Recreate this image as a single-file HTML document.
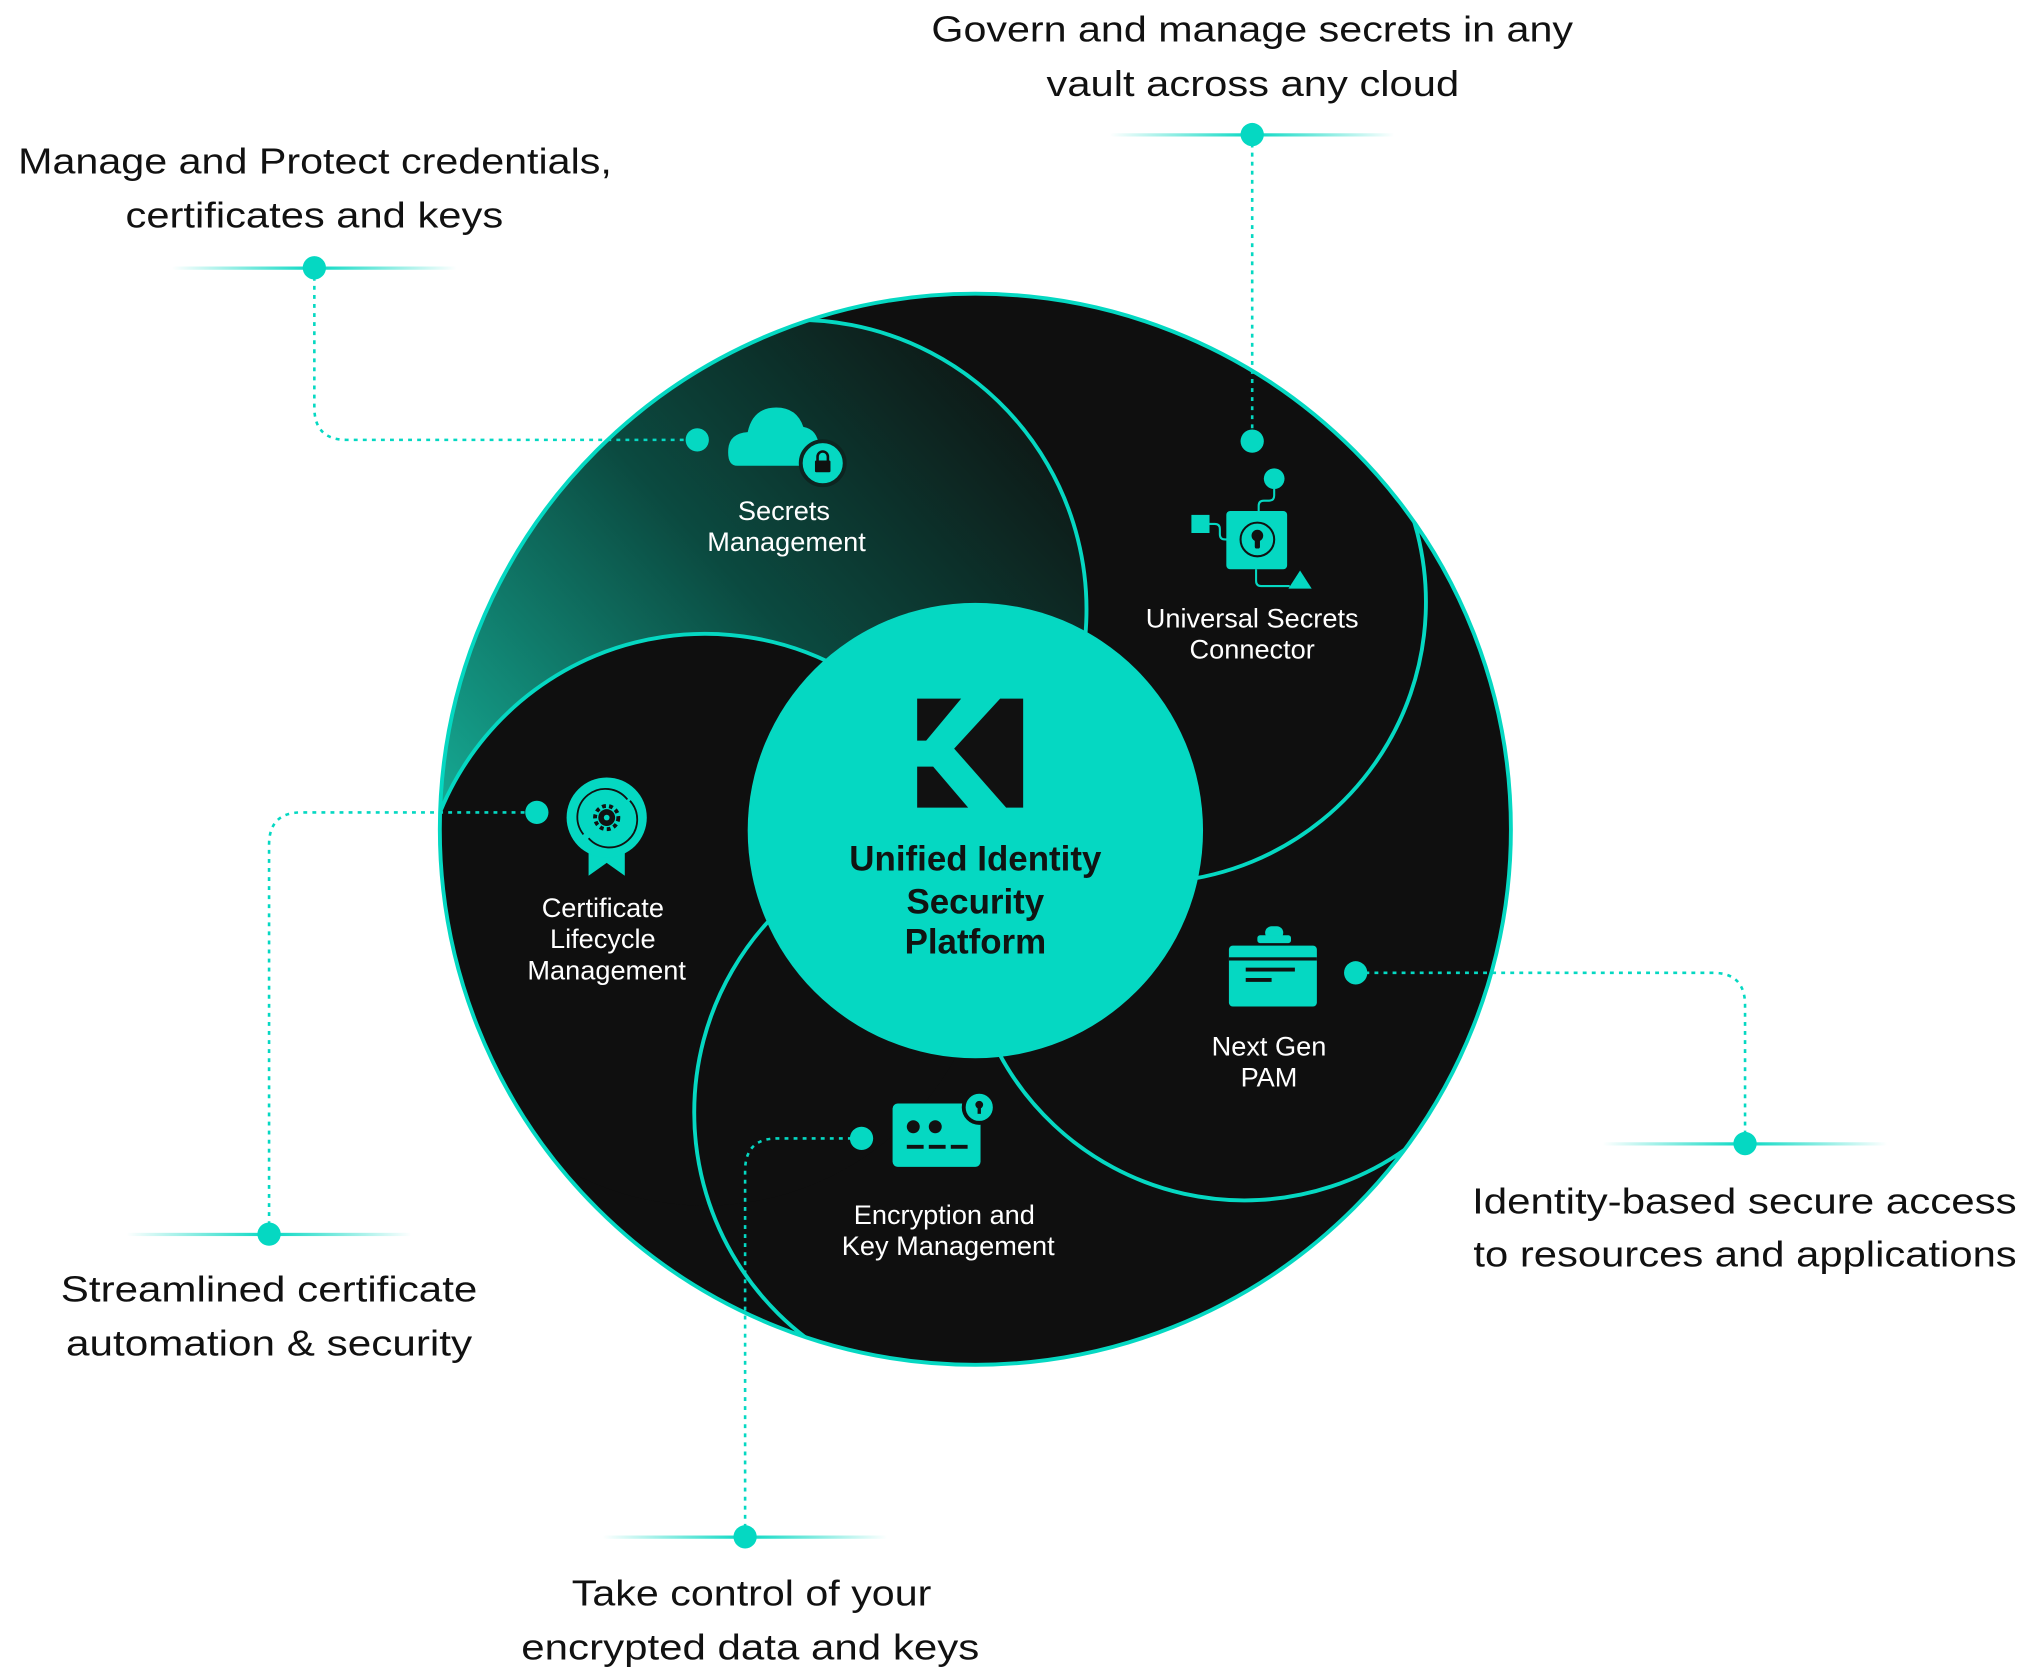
<!DOCTYPE html>
<html><head><meta charset="utf-8"><style>
html,body{margin:0;padding:0;background:#fff;}
svg{display:block;}
text{font-family:"Liberation Sans",sans-serif;}
</style></head><body>
<svg width="2018" height="1667" viewBox="0 0 1560 1288.6" xmlns="http://www.w3.org/2000/svg">
<defs>
<clipPath id="main"><circle cx="754" cy="641" r="414"/></clipPath>
<linearGradient id="grad" gradientUnits="userSpaceOnUse" x1="780" y1="260" x2="360" y2="640">
<stop offset="0" stop-color="#0e1311"/>
<stop offset="0.5" stop-color="#0b4a40"/>
<stop offset="1" stop-color="#15a892"/>
</linearGradient>
<linearGradient id="hl" gradientUnits="userSpaceOnUse" x1="0" y1="0" x2="220" y2="0">
<stop offset="0" stop-color="#05d8c2" stop-opacity="0"/>
<stop offset="0.5" stop-color="#05d8c2" stop-opacity="1"/>
<stop offset="1" stop-color="#05d8c2" stop-opacity="0"/>
</linearGradient>
</defs>

<circle cx="754" cy="641" r="414" fill="#0f0f0f"/>
<g clip-path="url(#main)">
<path d="M596.5,248 A224,224 0 0 1 799.5,599.5 L300,660 L300,200 Z" fill="url(#grad)"/>
<circle cx="545" cy="711" r="221" fill="#0f0f0f"/>
</g>
<g clip-path="url(#main)" fill="none" stroke="#05d8c2" stroke-width="3">
<path d="M596.5,248 A224,224 0 0 1 799.5,599.5"/>
<path d="M331.5,653.8 A221,221 0 0 1 655.5,519.6"/>
<path d="M1073,356.5 A217,217 0 0 1 847,679"/>
<path d="M646.5,1049.7 A219,219 0 0 1 646.5,670"/>
<path d="M760,786.5 A215,215 0 0 0 1114,865"/>
</g>
<circle cx="754" cy="641" r="414" fill="none" stroke="#05d8c2" stroke-width="3"/>

<circle cx="754" cy="642" r="176" fill="#05d8c2"/>
<g transform="translate(709,540) scale(0.773)" fill="#111">
<path d="M0,0 L44,0 L9,42 L0,42 Z"/>
<path d="M0,68 L16,68 L51,109 L0,109 Z"/>
<path d="M83,0 L106,0 L106,109 L89,109 L37,50 Z"/>
</g>
<g font-weight="bold" font-size="27" fill="#101412" text-anchor="middle">
<text x="754" y="673">Unified Identity</text>
<text x="754" y="706">Security</text>
<text x="754" y="737">Platform</text>
</g>

<g fill="none" stroke="#05d8c2" stroke-width="2" stroke-dasharray="3 4">
<path d="M968,104 V341"/>
<path d="M243,207 V315 Q243,340 268,340 H539"/>
<path d="M208,954 V653 Q208,628 233,628 H415"/>
<path d="M576,1188 V905 Q576,880 601,880 H666"/>
<path d="M1349,884 V777 Q1349,752 1324,752 H1048"/>
</g>
<g fill="url(#hl)">
<rect x="0" y="0" width="220" height="2.5" transform="translate(858,103)"/>
<rect x="0" y="0" width="220" height="2.5" transform="translate(133,206)"/>
<rect x="0" y="0" width="220" height="2.5" transform="translate(98,953)"/>
<rect x="0" y="0" width="220" height="2.5" transform="translate(466,1187)"/>
<rect x="0" y="0" width="220" height="2.5" transform="translate(1239,883)"/>
</g>
<g fill="#05d8c2">
<circle cx="968" cy="104" r="9"/><circle cx="968" cy="341" r="9"/>
<circle cx="243" cy="207" r="9"/><circle cx="539" cy="340" r="9"/>
<circle cx="208" cy="954" r="9"/><circle cx="415" cy="628" r="9"/>
<circle cx="576" cy="1188" r="9"/><circle cx="666" cy="880" r="9"/>
<circle cx="1349" cy="884" r="9"/><circle cx="1048" cy="752" r="9"/>
</g>

<g fill="#05d8c2">
<path d="M570,360 Q562,360 563,347 Q564,335 578,334 Q582,315 600,315 Q616,315 621,330 Q632,332 633,345 L633,360 Z"/>
<circle cx="636" cy="358" r="17" stroke="#0d2420" stroke-width="3"/>
</g>
<rect x="630" y="356" width="12" height="9" fill="#0f1110" rx="1"/>
<path d="M632,356 v-3 a4,4 0 0 1 8,0 v3" fill="none" stroke="#0f1110" stroke-width="2"/>

<g fill="#05d8c2">
<circle cx="985" cy="370" r="8"/>
<rect x="921" y="398" width="14" height="14"/>
<rect x="948" y="395" width="47" height="45" rx="3"/>
<path d="M1005,441 L1014,455 L996,455 Z"/>
</g>
<g fill="none" stroke="#05d8c2" stroke-width="1.6">
<path d="M985,378 v5 q0,4 -4,4 h-4 q-4,0 -4,4 v4"/>
<path d="M935,405 h4 q4,0 4,4 v4 q0,4 4,4 h2"/>
<path d="M971,440 v9 q0,4 4,4 h22"/>
</g>
<circle cx="972" cy="417" r="13" fill="none" stroke="#111" stroke-width="1.6"/>
<circle cx="972" cy="414" r="4.5" fill="#111"/>
<rect x="970" y="414" width="4" height="10" rx="1.5" fill="#111"/>

<g fill="#05d8c2">
<path d="M455,650 L455,677 L469,667 L483,677 L483,650 Z"/>
<circle cx="469" cy="632" r="31"/>
</g>
<g fill="none" stroke="#111" stroke-width="1.4">
<path d="M451,645 A20,20 0 0 1 485,618"/>
<path d="M487,619 A20,20 0 0 1 455,648"/>
</g>
<circle cx="469" cy="632" r="6.5" fill="#111"/>
<circle cx="469" cy="632" r="9" fill="none" stroke="#111" stroke-width="3" stroke-dasharray="3 2.5"/>
<circle cx="469" cy="632" r="2.2" fill="#05d8c2"/>

<g fill="#05d8c2">
<rect x="978" y="716" width="14" height="10" rx="5"/>
<rect x="972" y="723" width="26" height="6" rx="2"/>
<rect x="950" y="731" width="68" height="47" rx="3"/>
</g>
<rect x="950" y="740" width="68" height="2.5" fill="#111"/>
<rect x="963" y="748" width="38" height="3" fill="#111"/>
<rect x="963" y="756" width="20" height="3" fill="#111"/>

<rect x="690" y="853" width="68" height="49" rx="4" fill="#05d8c2"/>
<circle cx="757" cy="856" r="12" fill="#05d8c2" stroke="#0f0f0f" stroke-width="3"/>
<circle cx="757" cy="854" r="3" fill="#111"/><rect x="755.7" y="854" width="2.6" height="7" fill="#111"/>
<circle cx="706" cy="871" r="5" fill="#111"/><circle cx="723" cy="871" r="5" fill="#111"/>
<rect x="701" y="885" width="13" height="3" fill="#111"/><rect x="718" y="885" width="13" height="3" fill="#111"/><rect x="735" y="885" width="13" height="3" fill="#111"/>

<g fill="#fff" font-size="21" text-anchor="middle">
<text x="606" y="402">Secrets</text>
<text x="608" y="426">Management</text>
<text x="968" y="485">Universal Secrets</text>
<text x="968" y="509">Connector</text>
<text x="466" y="709">Certificate</text>
<text x="466" y="733">Lifecycle</text>
<text x="469" y="757">Management</text>
<text x="981" y="816">Next Gen</text>
<text x="981" y="840">PAM</text>
<text x="730" y="946">Encryption and</text>
<text x="733" y="970">Key Management</text>
</g>

<g fill="#111" font-size="28">
<text x="720" y="32" textLength="496" lengthAdjust="spacingAndGlyphs">Govern and manage secrets in any</text>
<text x="809" y="74" textLength="319" lengthAdjust="spacingAndGlyphs">vault across any cloud</text>
<text x="14" y="134" textLength="459" lengthAdjust="spacingAndGlyphs">Manage and Protect credentials,</text>
<text x="97" y="176" textLength="292" lengthAdjust="spacingAndGlyphs">certificates and keys</text>
<text x="47" y="1006" textLength="322" lengthAdjust="spacingAndGlyphs">Streamlined certificate</text>
<text x="51" y="1048" textLength="314" lengthAdjust="spacingAndGlyphs">automation &amp; security</text>
<text x="442" y="1241" textLength="278" lengthAdjust="spacingAndGlyphs">Take control of your</text>
<text x="403" y="1283" textLength="354" lengthAdjust="spacingAndGlyphs">encrypted data and keys</text>
<text x="1138" y="938" textLength="421" lengthAdjust="spacingAndGlyphs">Identity-based secure access</text>
<text x="1139" y="979" textLength="420" lengthAdjust="spacingAndGlyphs">to resources and applications</text>
</g>
</svg>
</body></html>
